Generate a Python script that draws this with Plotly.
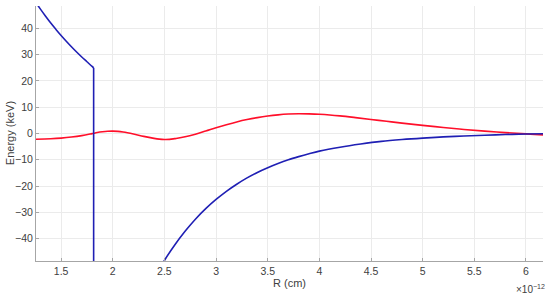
import plotly.graph_objects as go

# Data (R in units of 1e-12 cm, energy in keV)
blue_left_r = [1.257, 1.3, 1.35, 1.4, 1.45, 1.5, 1.55, 1.6, 1.65, 1.7, 1.75, 1.8, 1.815]
blue_left_e = [49.8, 47.3, 44.6, 42.0, 39.6, 37.3, 35.1, 33.0, 31.0, 29.1, 27.3, 25.5, 25.0]

blue_drop_r = [1.815, 1.815]
blue_drop_e = [25.0, -300.0]

blue_right_r = [2.3, 2.4, 2.5, 2.6, 2.7, 2.8, 2.9, 3.0, 3.1, 3.2, 3.3, 3.4, 3.5, 3.6, 3.7,
                3.8, 3.9, 4.0, 4.2, 4.4, 4.6, 4.8, 5.0, 5.2, 5.4, 5.6, 5.8, 6.0, 6.17]
blue_right_e = [-63.0, -55.2, -48.3, -42.4, -37.2, -32.6, -28.6, -25.1, -22.0, -19.3, -16.9,
                -14.8, -13.0, -11.4, -10.0, -8.8, -7.7, -6.7, -5.2, -4.0, -3.0, -2.3, -1.75,
                -1.3, -0.95, -0.65, -0.4, -0.2, -0.1]

red_r = [1.257, 1.4, 1.5, 1.6, 1.7, 1.8, 1.85, 1.9, 1.95, 2.0, 2.05, 2.1, 2.2, 2.3, 2.4,
         2.45, 2.5, 2.55, 2.6, 2.7, 2.8, 2.9, 3.0, 3.1, 3.2, 3.3, 3.4, 3.5, 3.6, 3.7, 3.8,
         3.9, 4.0, 4.1, 4.2, 4.35, 4.5, 4.65, 4.8, 5.0, 5.2, 5.4, 5.6, 5.8, 6.0, 6.17]
red_e = [-2.2, -2.0, -1.75, -1.35, -0.8, -0.05, 0.35, 0.65, 0.85, 0.9, 0.8, 0.55, -0.2,
         -1.1, -1.85, -2.15, -2.3, -2.25, -1.95, -1.25, -0.25, 0.95, 2.2, 3.35, 4.4, 5.3,
         6.05, 6.65, 7.1, 7.4, 7.52, 7.45, 7.3, 7.05, 6.7, 6.05, 5.35, 4.65, 3.95, 3.1,
         2.3, 1.55, 0.9, 0.35, -0.15, -0.55]

x_ticks = [1.5, 2, 2.5, 3, 3.5, 4, 4.5, 5, 5.5, 6]
x_tick_text = ["1.5", "2", "2.5", "3", "3.5", "4", "4.5", "5", "5.5", "6"]
y_ticks = [-40, -30, -20, -10, 0, 10, 20, 30, 40]
y_tick_text = ["\u221240", "\u221230", "\u221220", "\u221210", "0", "10", "20", "30", "40"]

BLUE = "#1f1fb4"
RED = "#ff0f2a"
FONT = "Liberation Sans, Arial, sans-serif"

fig = go.Figure()
fig.add_trace(go.Scatter(x=red_r, y=red_e, mode="lines",
                         line=dict(color=RED, width=1.6, shape="spline", smoothing=1.0)))
fig.add_trace(go.Scatter(x=blue_left_r, y=blue_left_e, mode="lines",
                         line=dict(color=BLUE, width=1.6, shape="spline", smoothing=1.0)))
fig.add_trace(go.Scatter(x=blue_drop_r, y=blue_drop_e, mode="lines",
                         line=dict(color=BLUE, width=1.6)))
fig.add_trace(go.Scatter(x=blue_right_r, y=blue_right_e, mode="lines",
                         line=dict(color=BLUE, width=1.6, shape="spline", smoothing=1.0)))

axis_common = dict(
    showgrid=True, gridcolor="#ebebeb", gridwidth=1,
    showline=True, linecolor="#a6a6a6", linewidth=1,
    ticks="inside", ticklen=3, tickcolor="#a6a6a6",
    zeroline=False,
    tickfont=dict(family=FONT, size=10.5, color="#404040"),
)

fig.update_layout(
    width=550, height=294,
    margin=dict(l=36, r=7, t=6, b=33),
    paper_bgcolor="white", plot_bgcolor="white",
    showlegend=False,
    xaxis=dict(range=[1.257, 6.165], tickvals=x_ticks, ticktext=x_tick_text, **axis_common),
    yaxis=dict(range=[-48.5, 48.5], tickvals=y_ticks, ticktext=y_tick_text, **axis_common),
    annotations=[
        dict(text="R (cm)", xref="paper", yref="paper", x=0.5, y=-0.086,
             xanchor="center", yanchor="middle", showarrow=False,
             font=dict(family=FONT, size=11, color="#404040")),
        dict(text="Energy (keV)", xref="paper", yref="paper", x=-0.052, y=0.5,
             xanchor="center", yanchor="middle", showarrow=False, textangle=-90,
             font=dict(family=FONT, size=11, color="#404040")),
        dict(text="\u00d710<sup>\u221212</sup>", xref="paper", yref="paper", x=1.008, y=-0.14,
             xanchor="right", yanchor="bottom", showarrow=False,
             font=dict(family=FONT, size=10, color="#404040")),
    ],
)

fig.write_html("out.html")
